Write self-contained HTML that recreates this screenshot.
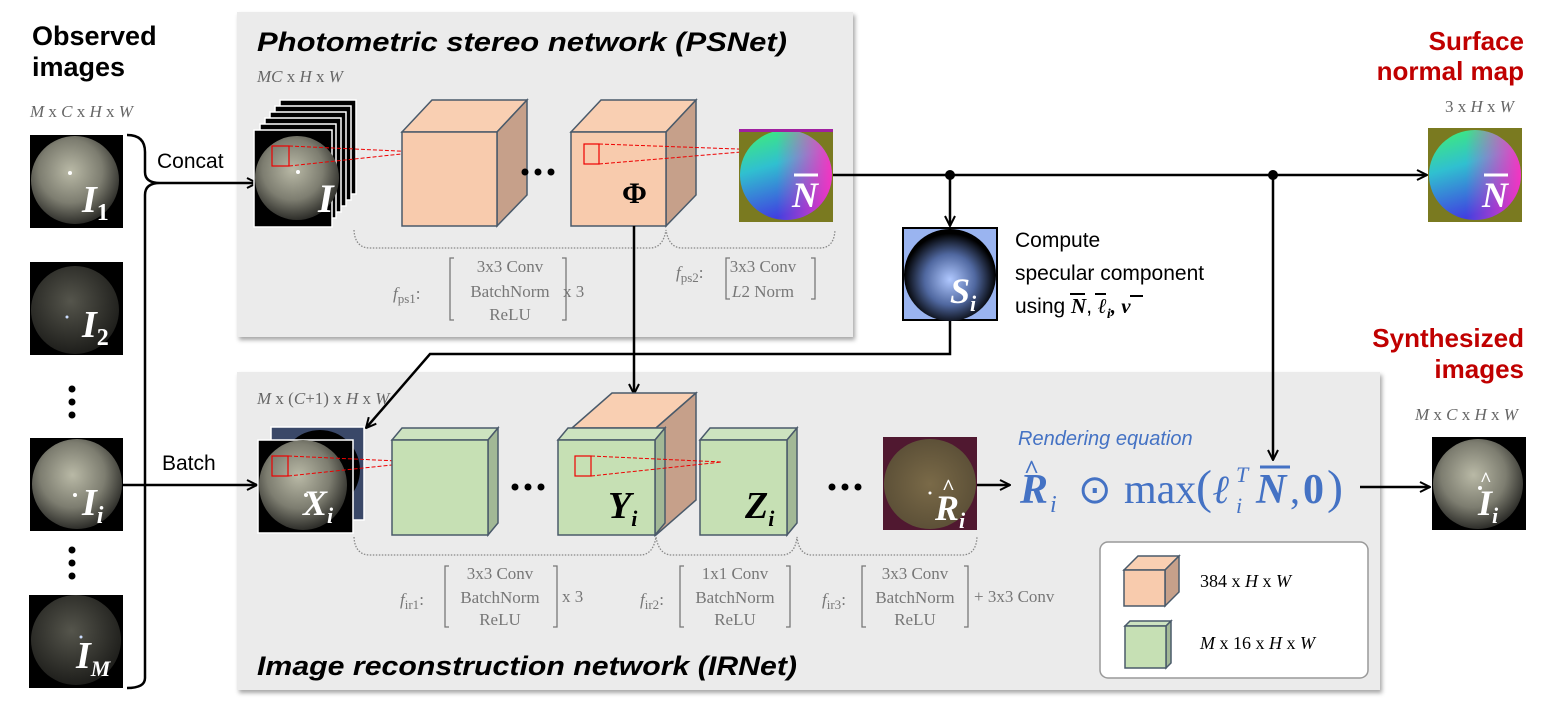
<!DOCTYPE html>
<html><head><meta charset="utf-8"><style>
html,body{margin:0;padding:0;background:#fff;}
svg{display:block;}
.m{font-family:"Liberation Serif",serif;font-style:italic;fill:#666;font-size:17px;}
.s{font-family:"Liberation Sans",sans-serif;}
.f{font-family:"Liberation Serif",serif;fill:#777;font-size:17px;}
</style></head><body>
<svg width="1552" height="715" viewBox="0 0 1552 715" xmlns="http://www.w3.org/2000/svg">
<defs>
<radialGradient id="gs" cx="0.45" cy="0.4" r="0.6"><stop offset="0" stop-color="#b9b9a6"/><stop offset="0.6" stop-color="#7d7d70"/><stop offset="1" stop-color="#2e2e2a"/></radialGradient>
<radialGradient id="gd" cx="0.45" cy="0.4" r="0.6"><stop offset="0" stop-color="#55554c"/><stop offset="1" stop-color="#1e1e1b"/></radialGradient>
<linearGradient id="gn" x1="0" y1="0" x2="0.3" y2="1"><stop offset="0" stop-color="#40f070"/><stop offset="0.45" stop-color="#30c0d0"/><stop offset="1" stop-color="#4040e0"/></linearGradient>
<linearGradient id="gnl" x1="0" y1="0" x2="1" y2="0"><stop offset="0.4" stop-color="#ff40c0" stop-opacity="0"/><stop offset="1" stop-color="#ff30c0" stop-opacity="0.95"/></linearGradient>
<radialGradient id="gsp" cx="0.5" cy="0.55" r="0.5"><stop offset="0" stop-color="#b0c8ff"/><stop offset="0.55" stop-color="#5068a0"/><stop offset="1" stop-color="#000"/></radialGradient>
<radialGradient id="gr" cx="0.5" cy="0.5" r="0.55"><stop offset="0" stop-color="#7a6a48"/><stop offset="1" stop-color="#5a4e36"/></radialGradient>
<filter id="sh" x="-5%" y="-5%" width="110%" height="110%"><feDropShadow dx="2" dy="3" stdDeviation="2" flood-color="#000" flood-opacity="0.35"/></filter>
<marker id="ar" viewBox="0 0 12 12" refX="11" refY="6" markerWidth="12" markerHeight="12" markerUnits="userSpaceOnUse" orient="auto"><path d="M1,1 L11,6 L1,11" fill="none" stroke="#000" stroke-width="2"/></marker>
</defs>

<rect x="237" y="12" width="616" height="325" fill="#ebebeb" filter="url(#sh)"/>
<rect x="237" y="372" width="1143" height="318" fill="#ebebeb" filter="url(#sh)"/>

<text x="32" y="45" class="s" font-weight="bold" font-size="27">Observed</text>
<text x="32" y="76" class="s" font-weight="bold" font-size="27">images</text>
<text x="30" y="117" class="m">M <tspan font-style="normal">x</tspan> C <tspan font-style="normal">x</tspan> H <tspan font-style="normal">x</tspan> W</text>

<g>
<rect x="30" y="135" width="93" height="93" fill="#000"/><circle cx="75" cy="180" r="44" fill="url(#gs)"/><circle cx="70" cy="173" r="2" fill="#fff"/>
<text x="82" y="212" font-family="Liberation Serif" font-style="italic" font-weight="bold" font-size="38" fill="#fff">I<tspan font-size="24" font-style="normal" dy="8">1</tspan></text>
<rect x="30" y="262" width="93" height="93" fill="#000"/><circle cx="75" cy="310" r="44" fill="url(#gd)"/><circle cx="67" cy="317" r="1.5" fill="#cdf"/>
<text x="82" y="337" font-family="Liberation Serif" font-style="italic" font-weight="bold" font-size="38" fill="#fff">I<tspan font-size="24" font-style="normal" dy="8">2</tspan></text>
<circle cx="72" cy="389" r="3.5"/><circle cx="72" cy="402" r="3.5"/><circle cx="72" cy="415" r="3.5"/>
<rect x="30" y="438" width="93" height="93" fill="#000"/><circle cx="77" cy="484" r="45" fill="url(#gs)"/><circle cx="75" cy="495" r="2" fill="#fff"/>
<text x="82" y="515" font-family="Liberation Serif" font-style="italic" font-weight="bold" font-size="38" fill="#fff">I<tspan font-size="24" dy="8">i</tspan></text>
<circle cx="72" cy="550" r="3.5"/><circle cx="72" cy="563" r="3.5"/><circle cx="72" cy="576" r="3.5"/>
<rect x="29" y="595" width="94" height="93" fill="#000"/><circle cx="76" cy="640" r="45" fill="url(#gd)"/><circle cx="81" cy="637" r="1.5" fill="#cdf"/>
<text x="76" y="668" font-family="Liberation Serif" font-style="italic" font-weight="bold" font-size="38" fill="#fff">I<tspan font-size="22" dy="8">M</tspan></text>
</g>

<path d="M127,135 Q145,135 145,152 L145,172 Q145,183 160,183 Q145,183 145,195 L145,678 Q145,688 127,688" fill="none" stroke="#000" stroke-width="2.5"/>
<line x1="160" y1="183" x2="257" y2="183" stroke="#000" stroke-width="2.5" marker-end="url(#ar)"/>
<text x="157" y="168" class="s" font-size="21">Concat</text>
<line x1="123" y1="485" x2="257" y2="485" stroke="#000" stroke-width="2.5" marker-end="url(#ar)"/>
<text x="162" y="470" class="s" font-size="21">Batch</text>

<text x="257" y="51" class="s" font-weight="bold" font-style="italic" font-size="27" textLength="530" lengthAdjust="spacingAndGlyphs">Photometric stereo network  (PSNet)</text>
<text x="257" y="82" class="m" font-size="16">MC <tspan font-style="normal">x</tspan> H <tspan font-style="normal">x</tspan> W</text>
<g stroke="#fff" stroke-width="1.5">
<rect x="280" y="100" width="76" height="94" fill="#000"/>
<rect x="275" y="106" width="76" height="94" fill="#000"/>
<rect x="270" y="112" width="76" height="94" fill="#000"/>
<rect x="265" y="118" width="76" height="94" fill="#000"/>
<rect x="260" y="124" width="76" height="94" fill="#000"/>
<rect x="254" y="130" width="78" height="97" fill="#000"/>
</g>
<circle cx="297" cy="178" r="42" fill="url(#gs)"/><circle cx="298" cy="172" r="2" fill="#fff"/>
<text x="318" y="212" font-family="Liberation Serif" font-style="italic" font-weight="bold" font-size="40" fill="#fff">I</text>
<rect x="272" y="146" width="17" height="20" fill="none" stroke="#e00" stroke-width="1.2"/>
<g stroke="#e00" stroke-width="1" stroke-dasharray="4,2" fill="none"><path d="M289,146 L420,152 M289,166 L420,152"/></g>

<g stroke="#4a5a6a" stroke-width="1.5">
<polygon points="402,132 432,100 527,100 497,132" fill="#f9cfb2"/>
<polygon points="497,132 527,100 527,195 497,226" fill="#c6a08a"/>
<rect x="402" y="132" width="95" height="94" fill="#f8cbad"/>
<polygon points="571,132 601,100 696,100 666,132" fill="#f9cfb2"/>
<polygon points="666,132 696,100 696,195 666,226" fill="#c6a08a"/>
<rect x="571" y="132" width="95" height="94" fill="#f8cbad"/>
</g>
<circle cx="525" cy="172" r="3.5"/><circle cx="538" cy="172" r="3.5"/><circle cx="551" cy="172" r="3.5"/>
<text x="622" y="203" font-family="Liberation Serif" font-weight="bold" font-size="30">Φ</text>
<rect x="584" y="144" width="15" height="20" fill="none" stroke="#e00" stroke-width="1.2"/>
<g stroke="#e00" stroke-width="1" stroke-dasharray="4,2"><path d="M599,144 L765,150 M599,164 L765,150"/></g>
<rect x="739" y="129" width="94" height="93" fill="#7a7a20"/>
<ellipse cx="786" cy="175" rx="46" ry="45" fill="url(#gn)"/>
<ellipse cx="786" cy="175" rx="46" ry="45" fill="url(#gnl)"/>
<rect x="739" y="129" width="94" height="3" fill="#a020a0"/>
<text x="792" y="207" font-family="Liberation Serif" font-style="italic" font-weight="bold" font-size="36" fill="#fff">N</text>
<line x1="794" y1="175" x2="818" y2="175" stroke="#fff" stroke-width="3"/>

<g fill="none" stroke="#888" stroke-width="1.3" stroke-dasharray="1.5,1.5">
<path d="M354,230 Q355,248 370,248 L650,248 Q663,248 666,230 Q669,248 682,248 L820,248 Q834,248 835,230"/>
</g>
<g class="f">
<text x="393" y="299" font-style="italic">f<tspan font-style="normal" font-size="13" dy="4">ps1</tspan><tspan dy="-4" font-style="normal">:</tspan></text>
<text x="510" y="272" text-anchor="middle" class="f">3x3 Conv</text>
<text x="510" y="297" text-anchor="middle" class="f">BatchNorm</text>
<text x="510" y="320" text-anchor="middle" class="f">ReLU</text>
<text x="563" y="297" class="f">x 3</text>
<text x="676" y="278" font-style="italic">f<tspan font-style="normal" font-size="13" dy="4">ps2</tspan><tspan dy="-4" font-style="normal">:</tspan></text>
<text x="763" y="272" text-anchor="middle" class="f">3x3 Conv</text>
<text x="763" y="297" text-anchor="middle" class="f"><tspan font-style="italic">L</tspan>2 Norm</text>
</g>
<g fill="none" stroke="#777" stroke-width="1.3">
<path d="M454,258 L450,258 L450,320 L454,320 M562,258 L566,258 L566,320 L562,320"/>
<path d="M730,258 L726,258 L726,299 L730,299 M811,258 L815,258 L815,299 L811,299"/>
</g>

<line x1="833" y1="175" x2="1427" y2="175" stroke="#000" stroke-width="2.5" marker-end="url(#ar)"/>
<circle cx="950" cy="175" r="5"/><circle cx="1273" cy="175" r="5"/>
<line x1="950" y1="175" x2="950" y2="226" stroke="#000" stroke-width="2.5" marker-end="url(#ar)"/>
<line x1="1273" y1="175" x2="1273" y2="460" stroke="#000" stroke-width="2.5" marker-end="url(#ar)"/>
<line x1="634" y1="226" x2="634" y2="394" stroke="#000" stroke-width="2.5" marker-end="url(#ar)"/>
<polyline points="950,320 950,354 430,354 366,428" fill="none" stroke="#000" stroke-width="2.5" marker-end="url(#ar)"/>

<rect x="903" y="228" width="94" height="92" fill="#9ab4f0" stroke="#000" stroke-width="2"/>
<ellipse cx="950" cy="275" rx="46" ry="46" fill="url(#gsp)"/>
<text x="950" y="303" font-family="Liberation Serif" font-style="italic" font-weight="bold" font-size="36" fill="#fff">S<tspan font-size="22" dy="8">i</tspan></text>
<text x="1015" y="247" class="s" font-size="21">Compute</text>
<text x="1015" y="280" class="s" font-size="21">specular component</text>
<text x="1015" y="313" class="s" font-size="21">using <tspan font-family="Liberation Serif" font-style="italic" font-weight="bold">N</tspan>, <tspan font-family="Liberation Serif" font-style="italic" font-weight="bold">ℓ<tspan font-size="14" dy="5">i</tspan><tspan dy="-5">,</tspan> v</tspan></text>
<g stroke="#000" stroke-width="2"><line x1="1070" y1="294" x2="1085" y2="294"/><line x1="1095" y1="294" x2="1106" y2="294"/><line x1="1130" y1="296" x2="1143" y2="296"/></g>

<text x="1524" y="50" text-anchor="end" class="s" font-weight="bold" font-size="26" fill="#c00000">Surface</text>
<text x="1524" y="80" text-anchor="end" class="s" font-weight="bold" font-size="26" fill="#c00000">normal map</text>
<text x="1445" y="112" class="m" font-size="16"><tspan font-style="normal">3 x</tspan> H <tspan font-style="normal">x</tspan> W</text>
<rect x="1428" y="128" width="94" height="94" fill="#7a7a20"/>
<ellipse cx="1475" cy="175" rx="46" ry="45" fill="url(#gn)"/>
<ellipse cx="1475" cy="175" rx="46" ry="45" fill="url(#gnl)"/>
<text x="1482" y="207" font-family="Liberation Serif" font-style="italic" font-weight="bold" font-size="36" fill="#fff">N</text>
<line x1="1484" y1="175" x2="1508" y2="175" stroke="#fff" stroke-width="3"/>
<text x="1524" y="347" text-anchor="end" class="s" font-weight="bold" font-size="26" fill="#c00000">Synthesized</text>
<text x="1524" y="378" text-anchor="end" class="s" font-weight="bold" font-size="26" fill="#c00000">images</text>
<text x="1415" y="420" class="m" font-size="16">M <tspan font-style="normal">x</tspan> C <tspan font-style="normal">x</tspan> H <tspan font-style="normal">x</tspan> W</text>
<rect x="1432" y="437" width="94" height="93" fill="#000"/><circle cx="1478" cy="484" r="45" fill="url(#gs)"/><circle cx="1480" cy="488" r="2" fill="#fff"/>
<text x="1478" y="515" font-family="Liberation Serif" font-style="italic" font-weight="bold" font-size="36" fill="#fff">I<tspan font-size="22" dy="8">i</tspan></text>
<text x="1480" y="486" font-family="Liberation Serif" font-weight="bold" font-size="20" fill="#fff">^</text>

<text x="257" y="675" class="s" font-weight="bold" font-style="italic" font-size="27" textLength="540" lengthAdjust="spacingAndGlyphs">Image reconstruction network  (IRNet)</text>
<text x="257" y="404" class="m" font-size="16">M <tspan font-style="normal">x (</tspan>C<tspan font-style="normal">+1) x</tspan> H <tspan font-style="normal">x</tspan> W</text>
<rect x="271" y="427" width="93" height="93" fill="#3a4868" stroke="#fff" stroke-width="1.5"/>
<ellipse cx="320" cy="470" rx="40" ry="40" fill="#000"/>
<rect x="258" y="440" width="95" height="93" fill="#000" stroke="#fff" stroke-width="1.5"/>
<ellipse cx="303" cy="485" rx="44" ry="45" fill="url(#gs)"/><circle cx="306" cy="495" r="2" fill="#fff"/>
<text x="303" y="515" font-family="Liberation Serif" font-style="italic" font-weight="bold" font-size="36" fill="#fff">X<tspan font-size="22" dy="8">i</tspan></text>
<rect x="272" y="456" width="16" height="20" fill="none" stroke="#e00" stroke-width="1.2"/>
<g stroke="#e00" stroke-width="1" stroke-dasharray="4,2"><path d="M288,456 L420,462 M288,476 L420,462"/></g>

<g stroke="#4a5a6a" stroke-width="1.5">
<polygon points="392,440 402,428 498,428 488,440" fill="#cde3c0"/>
<polygon points="488,440 498,428 498,523 488,535" fill="#a2b896"/>
<rect x="392" y="440" width="96" height="95" fill="#c6e0b4"/>
<polygon points="572,428 612,393 696,393 656,428" fill="#f9cfb2"/>
<polygon points="656,428 696,393 696,500 656,535" fill="#c6a08a"/>
<polygon points="558,440 568,428 665,428 655,440" fill="#cde3c0"/>
<polygon points="655,440 665,428 665,523 655,535" fill="#a2b896"/>
<rect x="558" y="440" width="97" height="95" fill="#c6e0b4"/>
<polygon points="700,440 710,428 797,428 787,440" fill="#cde3c0"/>
<polygon points="787,440 797,428 797,523 787,535" fill="#a2b896"/>
<rect x="700" y="440" width="87" height="95" fill="#c6e0b4"/>
</g>
<circle cx="515" cy="487" r="3.5"/><circle cx="528" cy="487" r="3.5"/><circle cx="541" cy="487" r="3.5"/>
<circle cx="832" cy="487" r="3.5"/><circle cx="845" cy="487" r="3.5"/><circle cx="858" cy="487" r="3.5"/>
<text x="608" y="518" font-family="Liberation Serif" font-style="italic" font-weight="bold" font-size="38">Y<tspan font-size="22" dy="8">i</tspan></text>
<text x="745" y="518" font-family="Liberation Serif" font-style="italic" font-weight="bold" font-size="38">Z<tspan font-size="22" dy="8">i</tspan></text>
<rect x="575" y="456" width="16" height="20" fill="none" stroke="#e00" stroke-width="1.2"/>
<g stroke="#e00" stroke-width="1" stroke-dasharray="4,2"><path d="M591,456 L722,462 M591,476 L722,462"/></g>
<rect x="883" y="437" width="94" height="93" fill="#501830"/>
<ellipse cx="930" cy="484" rx="46" ry="45" fill="url(#gr)"/>
<circle cx="930" cy="493" r="1.5" fill="#fff"/>
<text x="935" y="520" font-family="Liberation Serif" font-style="italic" font-weight="bold" font-size="36" fill="#fff">R<tspan font-size="22" dy="8">i</tspan></text>
<text x="942" y="494" font-family="Liberation Serif" font-weight="bold" font-size="22" fill="#fff">^</text>
<line x1="977" y1="485" x2="1010" y2="485" stroke="#000" stroke-width="2.5" marker-end="url(#ar)"/>
<text x="1018" y="445" class="s" font-style="italic" font-size="20" fill="#4472c4">Rendering equation</text>

<!-- equation -->
<g font-family="Liberation Serif" fill="#4472c4">
<text x="1020" y="503" font-size="42" font-style="italic" font-weight="bold">R</text>
<text x="1024" y="478" font-size="26" font-weight="bold">^</text>
<text x="1050" y="512" font-size="24" font-style="italic">i</text>
<text x="1078" y="503" font-size="40">⊙</text>
<text x="1124" y="503" font-size="42">max</text>
<text x="1196" y="503" font-size="48">(</text>
<text x="1213" y="503" font-size="40" font-style="italic" font-weight="bold">ℓ</text>
<text x="1236" y="482" font-size="22" font-style="italic">T</text>
<text x="1236" y="513" font-size="22" font-style="italic">i</text>
<text x="1256" y="503" font-size="42" font-style="italic" font-weight="bold">N</text>
<text x="1290" y="503" font-size="40">,</text>
<text x="1303" y="503" font-size="42" font-weight="bold">0</text>
<text x="1327" y="503" font-size="48">)</text>
</g>
<line x1="1260" y1="467" x2="1290" y2="467" stroke="#4472c4" stroke-width="3"/>
<line x1="1360" y1="487" x2="1430" y2="487" stroke="#000" stroke-width="2.5" marker-end="url(#ar)"/>

<g fill="none" stroke="#888" stroke-width="1.3" stroke-dasharray="1.5,1.5">
<path d="M354,537 Q355,555 370,555 L640,555 Q653,555 656,537 Q659,555 672,555 L782,555 Q795,555 797,537 Q799,555 812,555 L962,555 Q976,555 977,537"/>
</g>
<g class="f">
<text x="400" y="605" font-style="italic">f<tspan font-style="normal" font-size="13" dy="4">ir1</tspan><tspan dy="-4" font-style="normal">:</tspan></text>
<text x="500" y="579" text-anchor="middle" class="f">3x3 Conv</text>
<text x="500" y="603" text-anchor="middle" class="f">BatchNorm</text>
<text x="500" y="625" text-anchor="middle" class="f">ReLU</text>
<text x="562" y="602" class="f">x 3</text>
<text x="640" y="605" font-style="italic">f<tspan font-style="normal" font-size="13" dy="4">ir2</tspan><tspan dy="-4" font-style="normal">:</tspan></text>
<text x="735" y="579" text-anchor="middle" class="f">1x1 Conv</text>
<text x="735" y="603" text-anchor="middle" class="f">BatchNorm</text>
<text x="735" y="625" text-anchor="middle" class="f">ReLU</text>
<text x="822" y="605" font-style="italic">f<tspan font-style="normal" font-size="13" dy="4">ir3</tspan><tspan dy="-4" font-style="normal">:</tspan></text>
<text x="915" y="579" text-anchor="middle" class="f">3x3 Conv</text>
<text x="915" y="603" text-anchor="middle" class="f">BatchNorm</text>
<text x="915" y="625" text-anchor="middle" class="f">ReLU</text>
<text x="974" y="602" class="f">+ 3x3 Conv</text>
</g>
<g fill="none" stroke="#777" stroke-width="1.3">
<path d="M449,566 L445,566 L445,627 L449,627 M553,566 L557,566 L557,627 L553,627"/>
<path d="M684,566 L680,566 L680,627 L684,627 M786,566 L790,566 L790,627 L786,627"/>
<path d="M866,566 L862,566 L862,627 L866,627 M964,566 L968,566 L968,627 L964,627"/>
</g>

<rect x="1100" y="542" width="268" height="136" rx="8" fill="#fff" stroke="#999" stroke-width="1.5"/>
<g stroke="#4a5a6a" stroke-width="1.5">
<polygon points="1124,570 1138,556 1179,556 1165,570" fill="#f9cfb2"/>
<polygon points="1165,570 1179,556 1179,592 1165,606" fill="#c6a08a"/>
<rect x="1124" y="570" width="41" height="36" fill="#f8cbad"/>
<polygon points="1125,626 1130,621 1171,621 1166,626" fill="#cde3c0"/>
<polygon points="1166,626 1171,621 1171,663 1166,668" fill="#a2b896"/>
<rect x="1125" y="626" width="41" height="42" fill="#c6e0b4"/>
</g>
<text x="1200" y="587" font-family="Liberation Serif" font-size="18">384 x <tspan font-style="italic">H</tspan> x <tspan font-style="italic">W</tspan></text>
<text x="1200" y="649" font-family="Liberation Serif" font-size="18"><tspan font-style="italic">M</tspan> x 16 x <tspan font-style="italic">H</tspan> x <tspan font-style="italic">W</tspan></text>
</svg>
</body></html>
